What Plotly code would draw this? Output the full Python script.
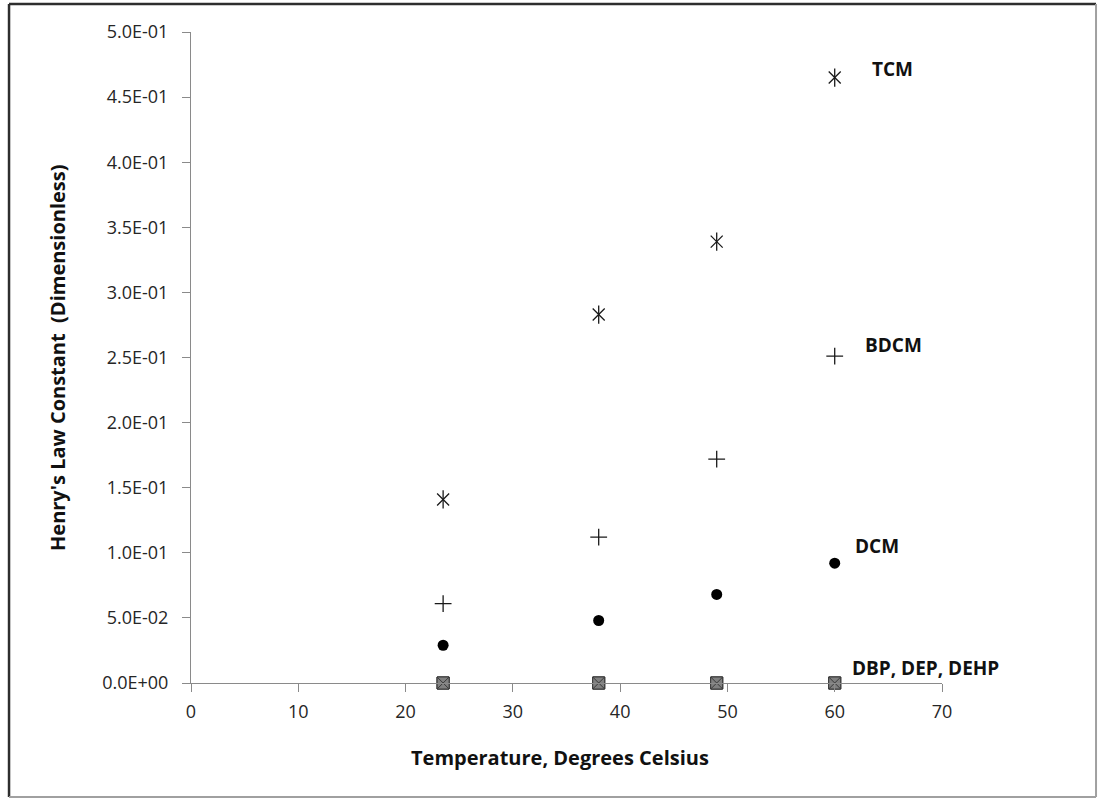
import plotly.graph_objects as go

# ---- data ----
temperature = [23.5, 38, 49, 60]
tcm = [0.141, 0.283, 0.339, 0.465]
bdcm = [0.061, 0.112, 0.172, 0.251]
dcm = [0.029, 0.048, 0.068, 0.092]
dbp = [0, 0, 0, 0]
dep = [0, 0, 0, 0]
dehp = [0, 0, 0, 0]

series_labels = ["TCM", "BDCM", "DCM", "DBP, DEP, DEHP"]
label_x = [63.3, 62.6, 61.7, 61.4]
label_y = [0.4716, 0.2596, 0.105, 0.0115]

x_ticks = [0, 10, 20, 30, 40, 50, 60, 70]
y_ticks = [0, 0.05, 0.1, 0.15, 0.2, 0.25, 0.3, 0.35, 0.4, 0.45, 0.5]
y_ticktext = [f"{v:.1E}" for v in y_ticks]

x_title = "Temperature, Degrees Celsius"
y_title = "Henry's Law Constant  (Dimensionless)"

INK = "#1a1a1a"
AX = "#8a8a8a"
FONT = "Open Sans"

fig = go.Figure()

# TCM: six-armed star = X + vertical bar
fig.add_trace(go.Scatter(x=temperature, y=tcm, mode="markers", name="TCM",
                         marker=dict(symbol="x-thin-open", size=12, color=INK,
                                     line=dict(color=INK, width=1.3))))
fig.add_trace(go.Scatter(x=temperature, y=tcm, mode="markers", name="TCM",
                         showlegend=False,
                         marker=dict(symbol="line-ns-open", size=13, color=INK,
                                     line=dict(color=INK, width=1.3))))
fig.add_trace(go.Scatter(x=temperature, y=bdcm, mode="markers", name="BDCM",
                         marker=dict(symbol="cross-thin-open", size=12, color=INK,
                                     line=dict(color=INK, width=1.3))))
fig.add_trace(go.Scatter(x=temperature, y=dcm, mode="markers", name="DCM",
                         marker=dict(symbol="circle", size=11, color="#000000",
                                     line=dict(width=0))))
for name, vals in [("DBP", dbp), ("DEP", dep), ("DEHP", dehp)]:
    fig.add_trace(go.Scatter(x=temperature, y=vals, mode="markers", name=name,
                             cliponaxis=False,
                             marker=dict(symbol="square-x", size=12, color="#808080",
                                         line=dict(color="#3a3a3a", width=1))))

annotations = []
for t, lx, ly in zip(series_labels, label_x, label_y):
    annotations.append(dict(x=lx, y=ly, xref="x", yref="y", text=f"<b>{t}</b>",
                            showarrow=False, xanchor="left", yanchor="middle",
                            font=dict(family=FONT, size=19, color="#111111")))
annotations.append(dict(x=0.4913, y=-0.1137, xref="paper", yref="paper",
                        text=f"<b>{x_title}</b>", showarrow=False,
                        xanchor="center", yanchor="middle",
                        font=dict(family=FONT, size=20, color="#111111")))
annotations.append(dict(x=-0.1771, y=0.5008, xref="paper", yref="paper",
                        text=f"<b>{y_title}</b>", showarrow=False, textangle=-90,
                        xanchor="center", yanchor="middle",
                        font=dict(family=FONT, size=20, color="#111111")))

# outer frame
L, R, T, B = -0.2423, 1.2051, 1.0430, -0.1751
shapes = [
    dict(type="line", xref="paper", yref="paper", x0=L, x1=L, y0=B, y1=T,
         line=dict(color="#2e2e2e", width=2.5)),
    dict(type="line", xref="paper", yref="paper", x0=L, x1=R, y0=T, y1=T,
         line=dict(color="#2e2e2e", width=2.5)),
    dict(type="line", xref="paper", yref="paper", x0=R, x1=R, y0=B, y1=T,
         line=dict(color="#a0a0a0", width=2)),
    dict(type="line", xref="paper", yref="paper", x0=L, x1=R, y0=B, y1=B,
         line=dict(color="#a0a0a0", width=2)),
]

fig.update_layout(
    width=1098, height=799,
    margin=dict(l=191, r=156, t=32, b=116),
    paper_bgcolor="white", plot_bgcolor="white",
    showlegend=False,
    annotations=annotations,
    shapes=shapes,
    font=dict(family=FONT, size=18, color="#262626"),
)
fig.update_xaxes(range=[0, 70], tickvals=x_ticks, ticktext=[str(v) for v in x_ticks],
                 showgrid=False, zeroline=False, showline=True, linecolor=AX,
                 linewidth=1, ticks="outside", ticklen=8, tickcolor=AX,
                 ticklabelstandoff=4,
                 tickfont=dict(family=FONT, size=18, color="#262626"))
fig.update_yaxes(range=[0, 0.5], tickvals=y_ticks, ticktext=y_ticktext,
                 showgrid=False, zeroline=False, showline=True, linecolor=AX,
                 linewidth=1, ticks="outside", ticklen=8, tickcolor=AX,
                 ticklabelstandoff=10,
                 tickfont=dict(family=FONT, size=18, color="#262626"))

fig.write_html("out.html")
